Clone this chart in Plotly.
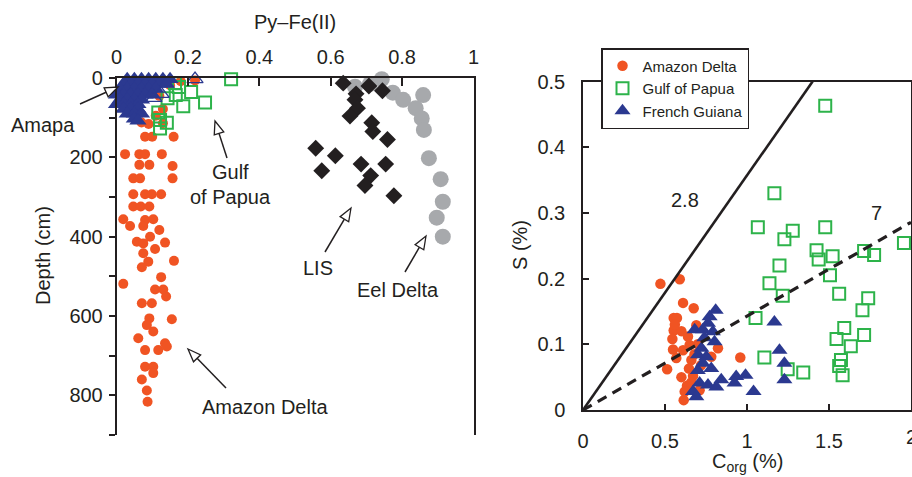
import math
import plotly.graph_objects as go

W, H = 912, 477

# ---------------- Left panel data: Py-Fe(II) vs depth (cm) ----------------
amazon_pyfe = [0.18, 0.22, 0.15, 0.12, 0.13, 0.11, 0.07, 0.09, 0.13, 0.08, 0.10, 0.16,
               0.024, 0.064, 0.080, 0.127, 0.064, 0.092, 0.157, 0.047, 0.066, 0.157,
               0.047, 0.080, 0.099, 0.125, 0.047, 0.068, 0.092, 0.019, 0.038, 0.080,
               0.103, 0.075, 0.120, 0.094, 0.057, 0.075, 0.136, 0.108, 0.075, 0.089,
               0.161, 0.071, 0.019, 0.125, 0.108, 0.131, 0.139, 0.071, 0.099, 0.092,
               0.155, 0.085, 0.103, 0.061, 0.136, 0.080, 0.117, 0.141, 0.080, 0.103,
               0.103, 0.071, 0.085, 0.087]
amazon_depth = [8, 6, 18, 45, 78, 95, 112, 116, 114, 148, 148, 148,
                192, 192, 192, 192, 219, 219, 222, 253, 253, 253,
                293, 293, 293, 293, 324, 324, 324, 356, 373, 358,
                356, 373, 383, 400, 413, 417, 415, 431, 442, 463,
                461, 477, 519, 502, 533, 533, 551, 568, 568, 606,
                608, 623, 639, 656, 669, 686, 686, 677, 728, 728,
                744, 760, 788, 816]

papua_pyfe = [0.321, 0.164, 0.175, 0.209, 0.166, 0.143, 0.248, 0.187, 0.117, 0.122, 0.141, 0.122]
papua_depth = [3, 13, 23, 35, 43, 51, 62, 71, 87, 106, 113, 127]

amapa_pyfe = [0.03, 0.05, 0.07, 0.09, 0.11, 0.13, 0.15,
              0.02, 0.04, 0.06, 0.08, 0.10, 0.12, 0.14,
              0.01, 0.03, 0.05, 0.07, 0.09, 0.11,
              0.00, 0.02, 0.04, 0.06, 0.08, 0.10,
              0.01, 0.03, 0.05, 0.07,
              0.00, 0.02, 0.04, 0.06,
              0.02, 0.04, 0.06,
              0.03, 0.05, 0.07,
              0.05, 0.06]
amapa_depth = [3, 3, 3, 3, 3, 3, 3,
               15, 15, 15, 15, 15, 15, 15,
               28, 28, 28, 28, 28, 28,
               42, 42, 42, 42, 42, 42,
               55, 55, 55, 55,
               66, 66, 66, 66,
               78, 78, 78,
               90, 90, 90,
               103, 108]

guiana_open_pyfe = [0.22, 0.105, 0.125]
guiana_open_depth = [3, 50, 40]

lis_pyfe = [0.635, 0.707, 0.745, 0.671, 0.668, 0.675, 0.654, 0.715, 0.718, 0.759,
            0.558, 0.613, 0.685, 0.754, 0.575, 0.712, 0.696, 0.777]
lis_depth = [13, 20, 32, 40, 55, 76, 96, 113, 135, 155,
             177, 196, 217, 217, 234, 246, 271, 297]

eel_pyfe = [0.743, 0.71, 0.668, 0.774, 0.803, 0.859, 0.838, 0.855, 0.861, 0.875,
            0.908, 0.914, 0.897, 0.914]
eel_depth = [3, 15, 22, 37, 55, 43, 76, 102, 131, 202, 255, 312, 352, 400]

# ---------------- Right panel data: S (%) vs Corg (%) ----------------
amz_corg = [0.472, 0.590, 0.610, 0.675, 0.553, 0.573, 0.691, 0.553, 0.545, 0.650, 0.549,
            0.610, 0.823, 0.782, 0.959, 0.569, 0.661, 0.513, 0.646, 0.671, 0.634, 0.711,
            0.620, 0.614, 0.60, 0.64, 0.70, 0.72, 0.60, 0.66, 0.68, 0.56]
amz_s = [0.192, 0.199, 0.163, 0.155, 0.140, 0.140, 0.129, 0.121, 0.108, 0.099, 0.092,
         0.091, 0.094, 0.081, 0.080, 0.079, 0.076, 0.062, 0.063, 0.052, 0.037, 0.030,
         0.028, 0.015, 0.120, 0.112, 0.100, 0.068, 0.050, 0.042, 0.085, 0.130]

gop_corg = [1.477, 1.167, 1.066, 1.279, 1.228, 1.477, 1.424, 1.437, 1.522, 1.714,
            1.775, 1.957, 1.198, 1.506, 1.137, 1.218, 1.562, 1.739, 1.704, 1.052,
            1.593, 1.714, 1.546, 1.633, 1.106, 1.573, 1.562, 1.583, 1.248, 1.343]
gop_s = [0.463, 0.330, 0.278, 0.273, 0.260, 0.278, 0.243, 0.229, 0.234, 0.242,
         0.236, 0.254, 0.220, 0.205, 0.193, 0.174, 0.177, 0.170, 0.152, 0.140,
         0.125, 0.114, 0.108, 0.097, 0.080, 0.076, 0.067, 0.053, 0.062, 0.057]

fg_corg = [0.809, 0.772, 0.762, 0.681, 0.731, 0.792, 1.167, 0.802, 0.722, 0.701,
           0.752, 0.731, 0.782, 1.198, 1.228, 1.228, 0.843, 0.934, 0.991, 0.711,
           0.762, 0.813, 0.924, 0.671, 0.691, 1.040, 0.74, 0.70]
fg_s = [0.152, 0.142, 0.132, 0.122, 0.122, 0.119, 0.134, 0.104, 0.094, 0.084,
        0.081, 0.071, 0.063, 0.091, 0.071, 0.046, 0.046, 0.051, 0.053, 0.041,
        0.038, 0.035, 0.041, 0.028, 0.020, 0.028, 0.110, 0.060]

# C/S reference ratios
ratios = [2.8, 7]
ratio_labels = ["2.8", "7"]

# tick values
left_x_ticks = [0, 0.2, 0.4, 0.6, 0.8, 1]
left_y_major = [0, 200, 400, 600, 800]
left_y_minor = [100, 300, 500, 700, 900]
right_x_ticks = [0, 0.5, 1, 1.5, 2]

ORANGE = "#F05423"
GREEN = "#2DB34A"
BLUE = "#2B3990"
BLACK = "#231F20"
GRAY = "#A7A9AC"
FONT = "Liberation Sans, Arial, Helvetica, sans-serif"


def px(x):
    return x / W


def py(y):
    return 1 - y / H


fig = go.Figure()

# ---- left panel traces
fig.add_trace(go.Scatter(x=amazon_pyfe, y=amazon_depth, mode="markers", xaxis="x", yaxis="y",
                         marker=dict(symbol="circle", size=10, color=ORANGE, line=dict(width=0)),
                         showlegend=False, cliponaxis=False))
fig.add_trace(go.Scatter(x=papua_pyfe, y=papua_depth, mode="markers", xaxis="x", yaxis="y",
                         marker=dict(symbol="square-open", size=12, color=GREEN, line=dict(width=2)),
                         showlegend=False, cliponaxis=False))
fig.add_trace(go.Scatter(x=amapa_pyfe, y=amapa_depth, mode="markers", xaxis="x", yaxis="y",
                         marker=dict(symbol="triangle-up", size=15, color=BLUE, line=dict(width=0)),
                         showlegend=False, cliponaxis=False))
fig.add_trace(go.Scatter(x=guiana_open_pyfe, y=guiana_open_depth, mode="markers", xaxis="x", yaxis="y",
                         marker=dict(symbol="triangle-up-open", size=14, color=BLUE, line=dict(width=1.3)),
                         showlegend=False, cliponaxis=False))
fig.add_trace(go.Scatter(x=eel_pyfe, y=eel_depth, mode="markers", xaxis="x", yaxis="y",
                         marker=dict(symbol="circle", size=16, color=GRAY, line=dict(width=0)),
                         showlegend=False, cliponaxis=False))
fig.add_trace(go.Scatter(x=lis_pyfe, y=lis_depth, mode="markers", xaxis="x", yaxis="y",
                         marker=dict(symbol="diamond", size=13, color=BLACK, line=dict(width=0)),
                         showlegend=False, cliponaxis=False))

# ---- right panel traces
fig.add_trace(go.Scatter(x=amz_corg, y=amz_s, mode="markers", xaxis="x2", yaxis="y2",
                         name="Amazon Delta",
                         marker=dict(symbol="circle", size=10.5, color=ORANGE, line=dict(width=0)),
                         cliponaxis=False))
fig.add_trace(go.Scatter(x=gop_corg, y=gop_s, mode="markers", xaxis="x2", yaxis="y2",
                         name="Gulf of Papua",
                         marker=dict(symbol="square-open", size=12, color=GREEN, line=dict(width=2)),
                         cliponaxis=False))
fig.add_trace(go.Scatter(x=fg_corg, y=fg_s, mode="markers", xaxis="x2", yaxis="y2",
                         name="French Guiana",
                         marker=dict(symbol="triangle-up", size=14, color=BLUE, line=dict(width=0)),
                         cliponaxis=False))

# reference lines S = Corg / ratio, clipped to the plot window
xmax, ymax = 2.0, 0.5
for r, dash, wd in zip(ratios, ["solid", "10px,7px"], [2.6, 3.2]):
    xe = min(xmax, ymax * r)
    fig.add_trace(go.Scatter(x=[0, xe], y=[0, xe / r], mode="lines", xaxis="x2", yaxis="y2",
                             line=dict(color=BLACK, width=wd, dash=dash),
                             showlegend=False, hoverinfo="skip"))

axis_common = dict(showgrid=False, zeroline=False, showline=True, linecolor=BLACK, linewidth=1.5,
                   tickcolor=BLACK, tickwidth=1.5, automargin=False,
                   tickfont=dict(family=FONT, size=20, color=BLACK))

fig.update_layout(
    width=W, height=H,
    margin=dict(l=0, r=0, t=0, b=0, autoexpand=False),
    paper_bgcolor="white", plot_bgcolor="white",
    font=dict(family=FONT, size=20, color=BLACK),
    xaxis=dict(domain=[px(116.5), px(473.5)], range=[0, 1], side="top", anchor="y",
               tickmode="array", tickvals=left_x_ticks, ticks="inside", ticklen=8,
               ticklabelstandoff=4, **axis_common),
    yaxis=dict(domain=[py(435), py(78)], range=[900, 0], anchor="x",
               tickmode="array", tickvals=left_y_major, ticks="outside", ticklen=6,
               minor=dict(tickmode="array", tickvals=left_y_minor, ticks="outside", ticklen=6,
                          tickcolor=BLACK, tickwidth=1.5, showgrid=False),
               mirror=True, ticklabelstandoff=2, **axis_common),
    xaxis2=dict(domain=[px(583), px(911)], range=[0, 2], anchor="y2",
                tickmode="array", tickvals=right_x_ticks[:-1],
                ticks="inside", ticklen=6, mirror=True, ticklabelstandoff=12, **axis_common),
    yaxis2=dict(domain=[py(410), py(81.5)], range=[0, 0.5], anchor="x2", dtick=0.1, tick0=0,
                ticks="inside", ticklen=6, mirror=True, ticklabelstandoff=12, **axis_common),
    legend=dict(x=px(601), y=py(48), xanchor="left", yanchor="top",
                bgcolor="white", bordercolor=BLACK, borderwidth=1.5,
                font=dict(family=FONT, size=15, color=BLACK),
                tracegroupgap=0, itemsizing="trace"),
    showlegend=True,
)

# last x tick label of right panel ("2"), partly cut by the page edge as in the original
fig.add_annotation(text=str(right_x_ticks[-1]), x=right_x_ticks[-1], y=py(437), xref="x2", yref="paper",
                   showarrow=False, xanchor="center", yanchor="middle",
                   font=dict(family=FONT, size=20, color=BLACK))

# ---- text labels (pixel positions)
texts = [
    ("Py–Fe(II)", 295, 22, 0),
    ("Depth (cm)", 43, 256, -90),
    ("S (%)", 520, 245, -90),
    ("C<sub>org</sub> (%)", 747, 462, 0),
    ("Amapa", 43, 125, 0),
    ("Gulf", 230, 172, 0),
    ("of Papua", 230, 197, 0),
    ("LIS", 318, 268, 0),
    ("Eel Delta", 398, 290, 0),
    ("Amazon Delta", 265, 407, 0),
]
for t, x, y, ang in texts:
    fig.add_annotation(text=t, x=px(x), y=py(y), xref="paper", yref="paper",
                       showarrow=False, textangle=ang, xanchor="center", yanchor="middle",
                       font=dict(family=FONT, size=20, color=BLACK))

# ratio labels placed in data space of right panel
ratio_label_pos = [(0.62, 0.32), (1.79, 0.30)]
for lab, (cx, cy) in zip(ratio_labels, ratio_label_pos):
    fig.add_annotation(text=lab, x=cx, y=cy, xref="x2", yref="y2", showarrow=False,
                       font=dict(family=FONT, size=20, color=BLACK))

# ---- open-head arrows (tip, tail) in pixels
arrows = [((118, 87), (80, 104)),
          ((215, 121), (227, 158)),
          ((351, 208), (325, 252)),
          ((426, 236), (405, 272)),
          ((188, 349), (226, 388))]
shapes = []
HL, HW = 13, 5
for (tx, ty), (sx, sy) in arrows:
    dx, dy = tx - sx, ty - sy
    n = math.hypot(dx, dy)
    ux, uy = dx / n, dy / n
    bx, by = tx - ux * HL, ty - uy * HL
    p1 = (bx - uy * HW, by + ux * HW)
    p2 = (bx + uy * HW, by - ux * HW)
    shapes.append(dict(type="line", xref="paper", yref="paper",
                       x0=px(sx), y0=py(sy), x1=px(bx), y1=py(by),
                       line=dict(color=BLACK, width=1.5)))
    path = "M {},{} L {},{} L {},{} Z".format(px(tx), py(ty), px(p1[0]), py(p1[1]),
                                             px(p2[0]), py(p2[1]))
    shapes.append(dict(type="path", xref="paper", yref="paper", path=path,
                       fillcolor="white", line=dict(color=BLACK, width=1.3)))
fig.update_layout(shapes=shapes)

fig.write_html("out.html")
